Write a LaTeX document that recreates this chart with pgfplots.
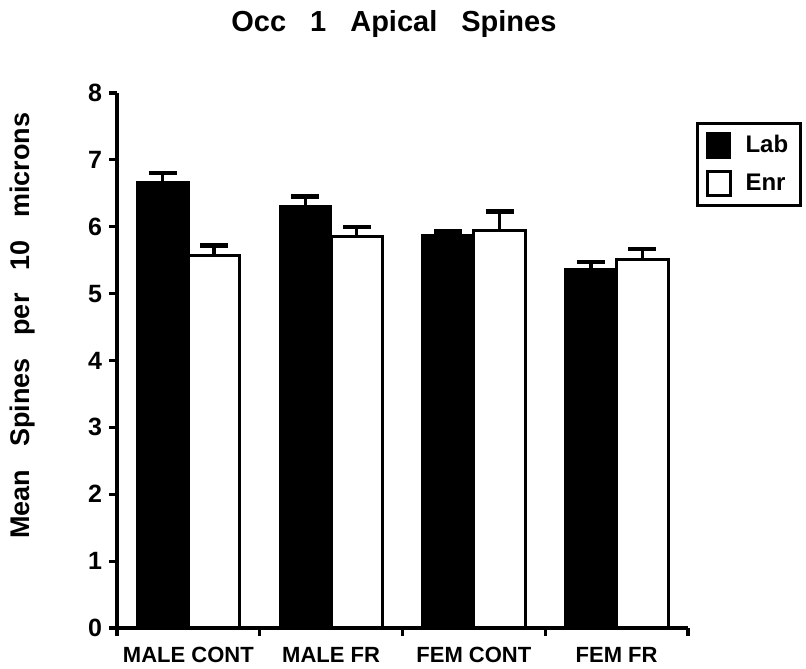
\documentclass[border=0pt]{standalone}
\usepackage{fontspec}
\setmainfont{Liberation Sans}
\usepackage{pgfplots}
\pgfplotsset{compat=1.18}
\begin{document}
\begin{tikzpicture}
\begin{axis}[
  name=ax,
  scale only axis,
  width=285.5pt, height=267.5pt,
  ybar=0pt,
  bar width=0.36,
  xmin=-0.5, xmax=3.5,
  ymin=0, ymax=8,
  axis lines*=left,
  axis line style={line width=2pt},
  tick align=outside,
  major tick length=4pt,
  minor tick length=4pt,
  every tick/.style={black, line width=1.6pt},
  xtick={0,1,2,3},
  xticklabels={MALE CONT, MALE FR, FEM CONT, FEM FR},
  major x tick style={draw=none},
  minor xtick={-0.5,0.5,1.5,2.5,3.5},
  ytick={0,1,...,8},
  /pgf/number format/assume math mode=true,
  y tick label style={font=\fontsize{12.5}{14}\selectfont\bfseries},
  x tick label style={font=\fontsize{11}{13}\selectfont\bfseries, yshift=-2pt},
  title={Occ\hspace{12pt}1\hspace{12pt}Apical\hspace{12pt}Spines},
  title style={at={(0.485,1)}, anchor=center, yshift=28.5pt,
    font=\fontsize{14.5}{17}\selectfont\bfseries},
  ylabel={Mean\hspace{11.4pt}Spines\hspace{11.4pt}per\hspace{11.4pt}10\hspace{11.4pt}microns},
  ylabel style={at={(axis description cs:-0.166,0.565)}, anchor=center,
    font=\fontsize{13.5}{15}\selectfont\bfseries},
  legend style={at={(1,1)}, anchor=north west, xshift=4pt, yshift=-14.5pt,
    draw=black, line width=1.5pt, font=\fontsize{12}{14}\selectfont\bfseries,
    row sep=5pt, inner xsep=4pt, inner ysep=4pt,
    /tikz/every odd column/.style={column sep=5pt}},
  legend cell align=left,
  error bars/y dir=plus,
  error bars/y explicit,
  error bars/error bar style={line width=1.6pt, black},
  error bars/error mark options={rotate=90, mark size=7pt, line width=2.2pt, black},
]
\addplot[fill=black, draw=black, line width=1.2pt,
  legend image code/.code={\draw[fill=black, draw=black, line width=1.2pt] (0pt,-6pt) rectangle (11.5pt,6pt);}]
  coordinates {(0,6.67) +- (0,0.13) (1,6.30) +- (0,0.15) (2,5.87) +- (0,0.06) (3,5.37) +- (0,0.10)};
\addlegendentry{Lab}
\addplot[fill=white, draw=black, line width=1.5pt,
  legend image code/.code={\draw[fill=white, draw=black, line width=1.5pt] (0pt,-6pt) rectangle (11.5pt,6pt);}]
  coordinates {(0,5.57) +- (0,0.15) (1,5.85) +- (0,0.15) (2,5.95) +- (0,0.28) (3,5.51) +- (0,0.16)};
\addlegendentry{Enr}
\end{axis}
\pgfresetboundingbox
\path ([xshift=-58.5pt,yshift=-20.5pt]ax.south west) rectangle ([xshift=59pt,yshift=46.5pt]ax.north east);
\end{tikzpicture}
\end{document}
